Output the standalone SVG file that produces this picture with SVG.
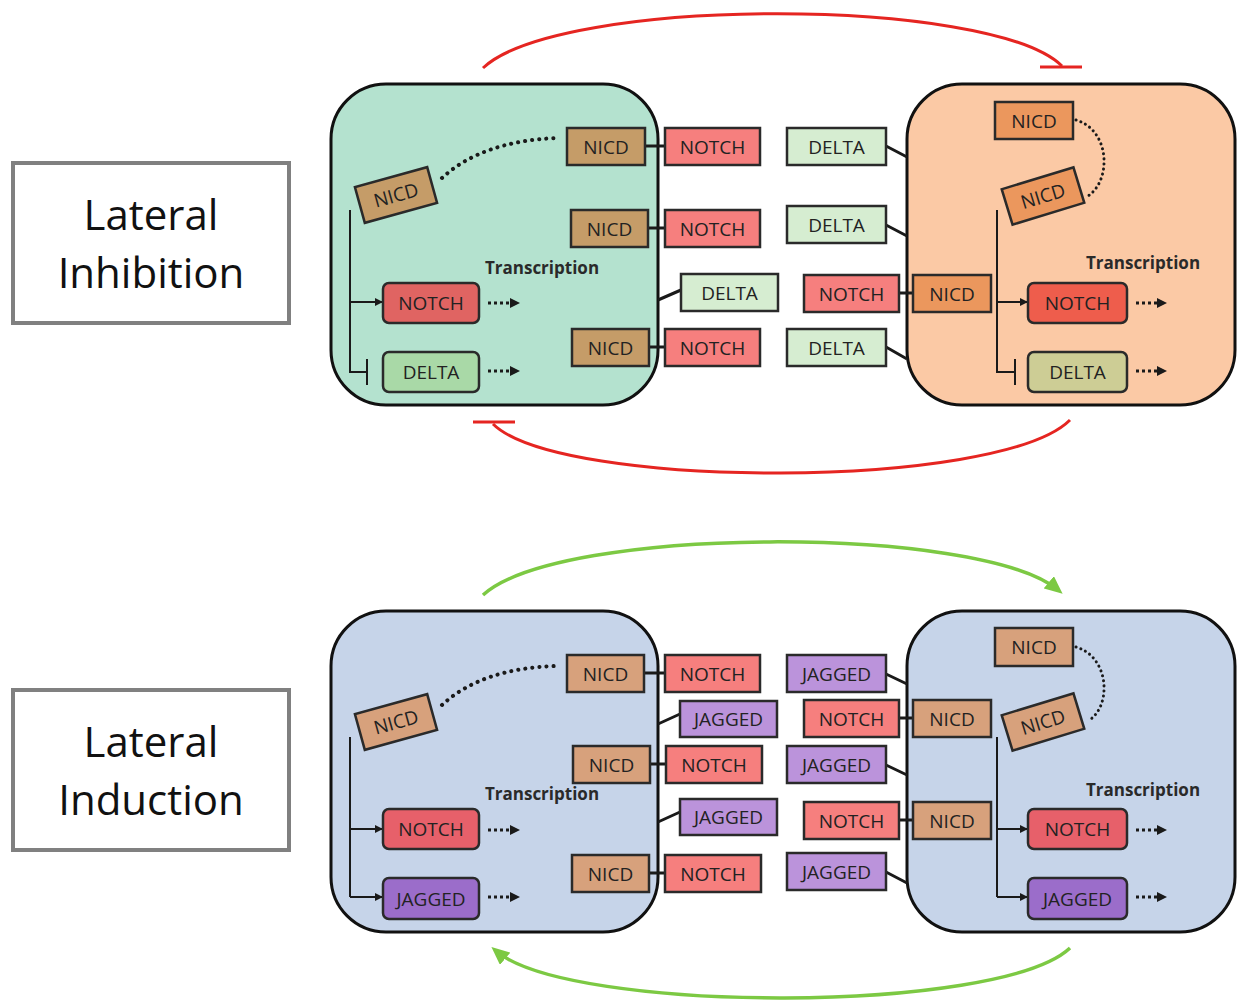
<svg xmlns="http://www.w3.org/2000/svg" width="1241" height="1002" viewBox="0 0 1241 1002">
<defs>
<style>
.lbl{fill:#fff;stroke:#808080;stroke-width:4}
.lt{font-family:"Open Sans","Liberation Sans",sans-serif;font-size:42px;fill:#111;text-anchor:middle}
.cell{stroke:#111;stroke-width:3}
.b{stroke:#2a2a2a;stroke-width:2.5}
.t{font-family:"Open Sans","Liberation Sans",sans-serif;font-size:19px;fill:#222;text-anchor:middle}
.tr{font-family:"Open Sans","Liberation Sans",sans-serif;font-size:17px;font-weight:bold;fill:#2a2a2a;text-anchor:middle}
.ln{stroke:#1a1a1a;stroke-width:3;fill:none}
.thin{stroke:#1a1a1a;stroke-width:2;fill:none}
.dot{stroke:#1a1a1a;stroke-width:4;stroke-dasharray:0.1 7;stroke-linecap:round;fill:none}
.dot2{stroke:#1a1a1a;stroke-width:3;stroke-dasharray:0.1 5;stroke-linecap:round;fill:none}
.dar{stroke:#1a1a1a;stroke-width:3;stroke-dasharray:3 3;fill:none}
.red{stroke:#e52521;stroke-width:3;fill:none}
.grn{stroke:#7cc943;stroke-width:3.5;fill:none}
.notch{fill:#f67f7e}.delta{fill:#d6edd1}.jag{fill:#bb93db}
.nicdA{fill:#c59c68}.nicdB{fill:#eb975d}.nicdC{fill:#d7a17c}
</style>
<marker id="tip" markerUnits="userSpaceOnUse" markerWidth="8" markerHeight="8" refX="7" refY="4" orient="auto"><path d="M0,0 L8,4 L0,8 z" fill="#1a1a1a"/></marker>
<marker id="garr" markerUnits="userSpaceOnUse" markerWidth="18" markerHeight="16" refX="12" refY="8" orient="auto"><path d="M0,0 L18,8 L0,16 z" fill="#7cc943"/></marker>
<marker id="darr" markerUnits="userSpaceOnUse" markerWidth="10" markerHeight="10" refX="0" refY="5" orient="auto"><path d="M0,0 L10,5 L0,10 z" fill="#1a1a1a"/></marker>
</defs>
<rect width="1241" height="1002" fill="#fff"/>

<g id="label-inhibition"><rect class="lbl" x="13" y="163" width="276" height="160"/><text class="lt" x="151" y="230">Lateral</text><text class="lt" x="151" y="288">Inhibition</text></g>
<g id="label-induction"><rect class="lbl" x="13" y="690" width="276" height="160"/><text class="lt" x="151" y="757">Lateral</text><text class="lt" x="151" y="815">Induction</text></g>

<g id="cell-inh-left"><rect class="cell" x="331" y="84" width="327" height="321" rx="55" fill="#b4e2cf"/></g>
<g id="cell-inh-right"><rect class="cell" x="907" y="84" width="328" height="321" rx="55" fill="#fbc9a5"/></g>
<g id="cell-ind-left"><rect class="cell" x="331" y="611" width="327" height="321" rx="55" fill="#c6d4e9"/></g>
<g id="cell-ind-right"><rect class="cell" x="907" y="611" width="328" height="321" rx="55" fill="#c6d4e9"/></g>

<g id="connectors">
<path class="red" d="M483,68 C560,-4 990,-4 1062,66"/>
<path class="red" d="M1040,67 H1082"/>
<path class="red" d="M1070,420 C1000,490 560,490 493,424"/>
<path class="red" d="M473,422 H515"/>
<path class="grn" marker-end="url(#garr)" d="M483,595 C560,525 980,525 1058,590"/>
<path class="grn" marker-end="url(#garr)" d="M1070,948 C1000,1014 570,1014 496,951"/>

<path class="ln" d="M645,146 H665 M648,228 H665 M649,347 H665 M658,300 L681,290"/>
<path class="ln" d="M886,146 L907,157 M886,225 L907,236 M899,293 H913 M886,347 L907,359"/>
<path class="ln" d="M644,673 H665 M650,764 H666 M649,873 H665 M658,724 L680,714 M658,822 L680,812"/>
<path class="ln" d="M886,674 L907,684 M886,765 L907,775 M886,872 L907,883 M899,718 H913 M899,820 H913"/>

<path class="dot" d="M442,178 Q482,141 557,138"/>
<path class="dot" d="M442,705 Q482,668 557,666"/>
<path class="dot2" d="M1076,120 C1110,130 1112,180 1088,196"/>
<path class="dot2" d="M1076,647 C1110,657 1112,707 1088,721"/>

<path class="thin" d="M350,210 V372 H367 M367,359 V385"/>
<path class="thin" marker-end="url(#tip)" d="M350,302 H382"/>
<path class="thin" d="M997,210 V372 H1015 M1015,359 V385"/>
<path class="thin" marker-end="url(#tip)" d="M997,302 H1027"/>
<path class="thin" d="M350,737 V897"/>
<path class="thin" marker-end="url(#tip)" d="M350,829 H382"/>
<path class="thin" marker-end="url(#tip)" d="M350,897 H382"/>
<path class="thin" d="M997,737 V897"/>
<path class="thin" marker-end="url(#tip)" d="M997,829 H1027"/>
<path class="thin" marker-end="url(#tip)" d="M997,897 H1027"/>

<path class="dar" marker-end="url(#darr)" d="M488,303 H510"/>
<path class="dar" marker-end="url(#darr)" d="M488,371 H510"/>
<path class="dar" marker-end="url(#darr)" d="M1136,303 H1157"/>
<path class="dar" marker-end="url(#darr)" d="M1136,371 H1157"/>
<path class="dar" marker-end="url(#darr)" d="M488,830 H510"/>
<path class="dar" marker-end="url(#darr)" d="M488,897 H510"/>
<path class="dar" marker-end="url(#darr)" d="M1136,830 H1157"/>
<path class="dar" marker-end="url(#darr)" d="M1136,897 H1157"/>
</g>

<!-- Inhibition left cell -->
<g id="i-nicd-1"><rect class="b nicdA" x="567" y="128" width="78" height="37"/><text class="t" x="606" y="153.5">NICD</text></g>
<g id="i-notch-1"><rect class="b notch" x="665" y="128" width="95" height="37"/><text class="t" x="712.5" y="153.5">NOTCH</text></g>
<g id="i-nicd-2"><rect class="b nicdA" x="571" y="210" width="77" height="37"/><text class="t" x="609.5" y="235.5">NICD</text></g>
<g id="i-notch-2"><rect class="b notch" x="665" y="210" width="95" height="37"/><text class="t" x="712.5" y="235.5">NOTCH</text></g>
<g id="i-delta-m"><rect class="b delta" x="681" y="274" width="97" height="37"/><text class="t" x="729.5" y="299.5">DELTA</text></g>
<g id="i-nicd-3"><rect class="b nicdA" x="572" y="329" width="77" height="37"/><text class="t" x="610.5" y="354.5">NICD</text></g>
<g id="i-notch-3"><rect class="b notch" x="665" y="329" width="95" height="37"/><text class="t" x="712.5" y="354.5">NOTCH</text></g>
<g id="i-nicd-rot" transform="rotate(-15.5 396 195)"><rect class="b nicdA" x="358.5" y="176.5" width="75" height="37"/><text class="t" x="396" y="202">NICD</text></g>
<g id="i-notch-t"><rect class="b" x="383" y="283" width="96" height="40" rx="6" fill="#e06462"/><text class="t" x="431" y="310">NOTCH</text></g>
<g id="i-delta-t"><rect class="b" x="383" y="352" width="96" height="40" rx="6" fill="#a9d9a7"/><text class="t" x="431" y="379">DELTA</text></g>
<g id="i-transcription-l"><text class="tr" x="542" y="274">Transcription</text></g>

<!-- Inhibition right cell -->
<g id="i-delta-r1"><rect class="b delta" x="787" y="128" width="99" height="37"/><text class="t" x="836.5" y="153.5">DELTA</text></g>
<g id="i-delta-r2"><rect class="b delta" x="787" y="206" width="99" height="37"/><text class="t" x="836.5" y="231.5">DELTA</text></g>
<g id="i-notch-rm"><rect class="b notch" x="804" y="275" width="95" height="37"/><text class="t" x="851.5" y="300.5">NOTCH</text></g>
<g id="i-nicd-rm"><rect class="b nicdB" x="913" y="275" width="78" height="37"/><text class="t" x="952" y="300.5">NICD</text></g>
<g id="i-delta-r3"><rect class="b delta" x="787" y="329" width="99" height="37"/><text class="t" x="836.5" y="354.5">DELTA</text></g>
<g id="i-nicd-rtop"><rect class="b nicdB" x="995" y="102" width="78" height="37"/><text class="t" x="1034" y="127.5">NICD</text></g>
<g id="i-nicd-rrot" transform="rotate(-17 1043 196)"><rect class="b nicdB" x="1005.5" y="177.5" width="75" height="37"/><text class="t" x="1043" y="203">NICD</text></g>
<g id="i-notch-rt"><rect class="b" x="1028" y="283" width="99" height="40" rx="6" fill="#ee5d4c"/><text class="t" x="1077.5" y="310">NOTCH</text></g>
<g id="i-delta-rt"><rect class="b" x="1028" y="352" width="99" height="40" rx="6" fill="#cdcd95"/><text class="t" x="1077.5" y="379">DELTA</text></g>
<g id="i-transcription-r"><text class="tr" x="1143" y="269">Transcription</text></g>

<!-- Induction left cell -->
<g id="d-nicd-1"><rect class="b nicdC" x="567" y="655" width="77" height="37"/><text class="t" x="605.5" y="680.5">NICD</text></g>
<g id="d-notch-1"><rect class="b notch" x="665" y="655" width="95" height="37"/><text class="t" x="712.5" y="680.5">NOTCH</text></g>
<g id="d-jag-l1"><rect class="b jag" x="680" y="701" width="97" height="36"/><text class="t" x="728.5" y="726">JAGGED</text></g>
<g id="d-nicd-2"><rect class="b nicdC" x="573" y="746" width="77" height="37"/><text class="t" x="611.5" y="771.5">NICD</text></g>
<g id="d-notch-2"><rect class="b notch" x="666" y="746" width="96" height="37"/><text class="t" x="714" y="771.5">NOTCH</text></g>
<g id="d-jag-l2"><rect class="b jag" x="680" y="799" width="97" height="36"/><text class="t" x="728.5" y="824">JAGGED</text></g>
<g id="d-nicd-3"><rect class="b nicdC" x="572" y="855" width="77" height="37"/><text class="t" x="610.5" y="880.5">NICD</text></g>
<g id="d-notch-3"><rect class="b notch" x="665" y="855" width="96" height="37"/><text class="t" x="713" y="880.5">NOTCH</text></g>
<g id="d-nicd-rot" transform="rotate(-15.5 396 722)"><rect class="b nicdC" x="358.5" y="703.5" width="75" height="37"/><text class="t" x="396" y="729">NICD</text></g>
<g id="d-notch-t"><rect class="b" x="383" y="809" width="96" height="40" rx="6" fill="#e7606a"/><text class="t" x="431" y="836">NOTCH</text></g>
<g id="d-jag-t"><rect class="b" x="383" y="878" width="96" height="41" rx="6" fill="#9b6dca"/><text class="t" x="431" y="905.5">JAGGED</text></g>
<g id="d-transcription-l"><text class="tr" x="542" y="800">Transcription</text></g>

<!-- Induction right cell -->
<g id="d-jag-r1"><rect class="b jag" x="787" y="655" width="99" height="37"/><text class="t" x="836.5" y="680.5">JAGGED</text></g>
<g id="d-notch-r1"><rect class="b notch" x="804" y="700" width="95" height="37"/><text class="t" x="851.5" y="725.5">NOTCH</text></g>
<g id="d-nicd-r1"><rect class="b nicdC" x="913" y="700" width="78" height="37"/><text class="t" x="952" y="725.5">NICD</text></g>
<g id="d-jag-r2"><rect class="b jag" x="787" y="746" width="99" height="37"/><text class="t" x="836.5" y="771.5">JAGGED</text></g>
<g id="d-notch-r2"><rect class="b notch" x="804" y="802" width="95" height="37"/><text class="t" x="851.5" y="827.5">NOTCH</text></g>
<g id="d-nicd-r2"><rect class="b nicdC" x="913" y="802" width="78" height="37"/><text class="t" x="952" y="827.5">NICD</text></g>
<g id="d-jag-r3"><rect class="b jag" x="787" y="853" width="99" height="37"/><text class="t" x="836.5" y="878.5">JAGGED</text></g>
<g id="d-nicd-rtop"><rect class="b nicdC" x="995" y="628" width="78" height="38"/><text class="t" x="1034" y="654">NICD</text></g>
<g id="d-nicd-rrot" transform="rotate(-17 1043 722)"><rect class="b nicdC" x="1005.5" y="703.5" width="75" height="37"/><text class="t" x="1043" y="729">NICD</text></g>
<g id="d-notch-rt"><rect class="b" x="1028" y="809" width="99" height="40" rx="6" fill="#e7606a"/><text class="t" x="1077.5" y="836">NOTCH</text></g>
<g id="d-jag-rt"><rect class="b" x="1028" y="878" width="99" height="41" rx="6" fill="#9b6dca"/><text class="t" x="1077.5" y="905.5">JAGGED</text></g>
<g id="d-transcription-r"><text class="tr" x="1143" y="796">Transcription</text></g>
</svg>
